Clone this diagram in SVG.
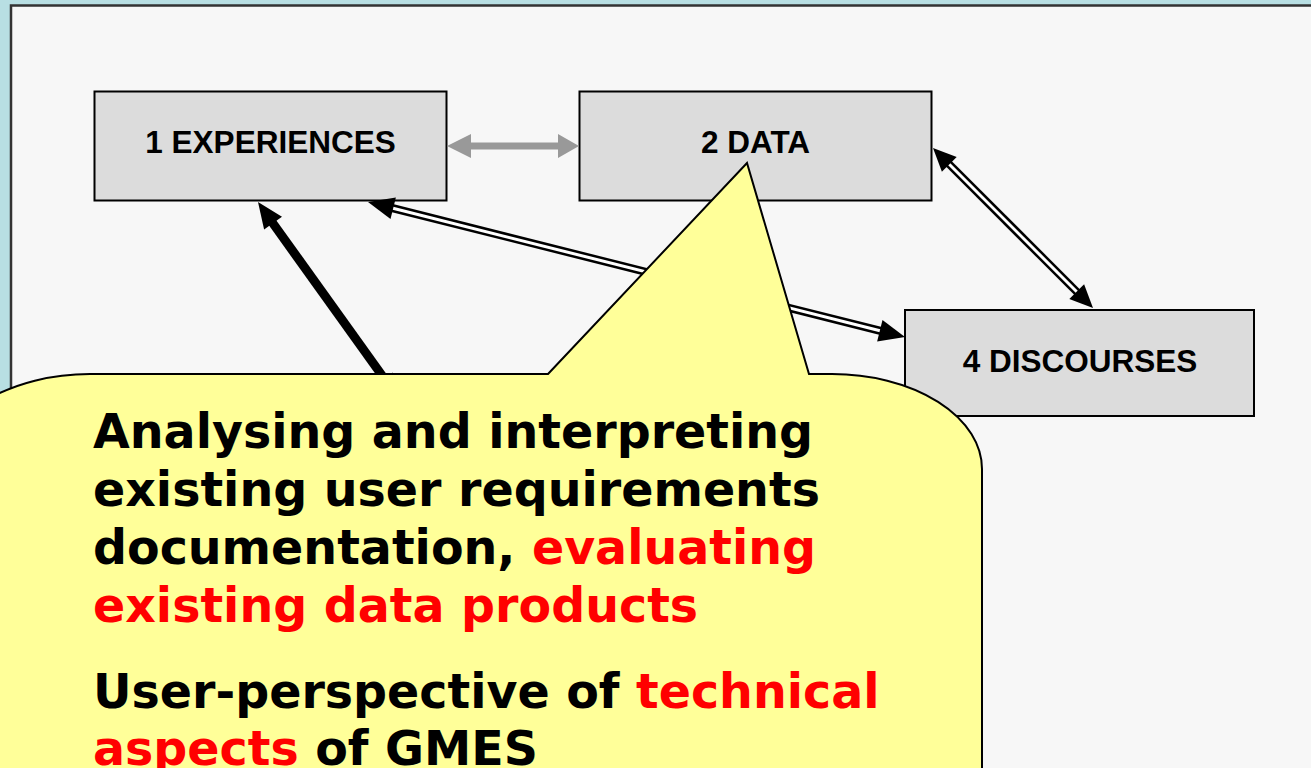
<svg xmlns="http://www.w3.org/2000/svg" width="1311" height="768" viewBox="0 0 1311 768">
<style>
.box{fill:#dcdcdc;stroke:#000;stroke-width:2}
.lbl{font-family:"Liberation Sans",Arial,sans-serif;font-weight:bold;font-size:31.5px;fill:#000;text-anchor:middle}
.dbl-o{stroke:#000;stroke-width:8;fill:none}
.dbl-i{stroke:#fff;stroke-width:3;fill:none}
.head{fill:#000}
.call{font-family:"DejaVu Sans",Verdana,sans-serif;font-weight:bold;font-size:47.5px;fill:#000}
.red{fill:#ff0000}
</style>
<rect x="0" y="0" width="1311" height="768" fill="#b8dfe3"/>
<rect x="11" y="5.5" width="1320" height="800" fill="#f7f7f7" stroke="#333" stroke-width="2.5"/>
<g id="node-1">
<rect class="box" x="94.5" y="91.5" width="352" height="109"/>
<text class="lbl" x="270.5" y="153">1 EXPERIENCES</text>
</g>
<g id="node-2">
<rect class="box" x="579.5" y="91.5" width="352" height="109"/>
<text class="lbl" x="755.5" y="153">2 DATA</text>
</g>
<g id="node-4">
<rect class="box" x="905" y="310" width="349" height="106"/>
<text class="lbl" x="1080" y="372">4 DISCOURSES</text>
</g>
<g id="connectors">
<polygon fill="#999999" points="447,146 471,134 471,142.5 558,142.5 558,134 579,146 558,158 558,149.5 471,149.5 471,158"/>
<line class="dbl-o" x1="390" y1="207.5" x2="883" y2="331.5"/>
<line class="dbl-i" x1="390" y1="207.5" x2="883" y2="331.5"/>
<polygon class="head" points="368,202 390.5,219 395.9,197.6"/>
<polygon class="head" points="905,337 877.1,341.4 882.5,320"/>
<line class="dbl-o" x1="947" y1="162" x2="1079" y2="294"/>
<line class="dbl-i" x1="947" y1="162" x2="1079" y2="294"/>
<polygon class="head" points="933,148 941.9,171.7 956.7,156.9"/>
<polygon class="head" points="1093,308 1069.3,299.1 1084.1,284.3"/>
<line x1="272" y1="222" x2="386" y2="381" stroke="#000" stroke-width="9"/>
<polygon class="head" points="258,202 264.1,229.6 282,216.8"/>
<polygon class="head" points="399,400 374.9,385.2 392.8,372.4"/>
</g>
<g id="callout">
<path d="M548,374 L747,163 L809,374 L832,374 A150 95 0 0 1 982 469 L982 900 L-60 900 L-60 469 A150 95 0 0 1 90 374 Z" fill="#ffff99" stroke="#000" stroke-width="2"/>
<text class="call" x="93" y="448">Analysing and interpreting</text>
<text class="call" x="93" y="506">existing user requirements</text>
<text class="call" x="93" y="564">documentation, <tspan class="red">evaluating</tspan></text>
<text class="call red" x="93" y="622">existing data products</text>
<text class="call" x="93" y="708">User-perspective of <tspan class="red">technical</tspan></text>
<text class="call" x="93" y="765"><tspan class="red">aspects</tspan> of GMES</text>
</g>
</svg>
